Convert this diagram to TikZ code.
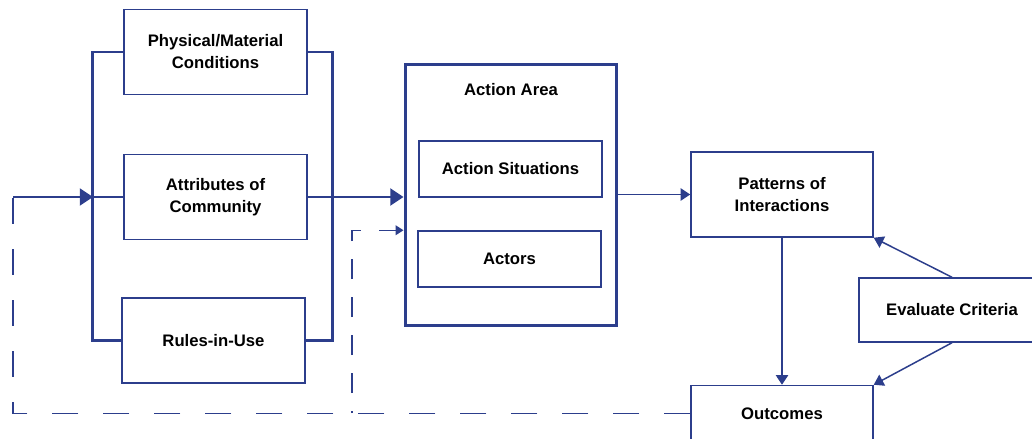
\documentclass[tikz,border=0pt]{standalone}
\usepackage{fontspec}
\setmainfont{Liberation Sans}
\usetikzlibrary{arrows.meta}
\definecolor{iadblue}{RGB}{44,62,140}
\tikzset{
  box/.style={draw=iadblue,line width=0.85pt,align=center,inner sep=0pt,
    font=\bfseries\fontsize{9.5}{12.5}\selectfont,
    minimum width=3.66cm,minimum height=1.7cm},
  small/.style={box,minimum height=1.12cm},
  bus/.style={draw=iadblue,line width=1.7pt},
  bigarrow/.style={bus,-{Triangle[length=7.5pt,width=9.5pt]}},
  thinarrow/.style={iadblue,line width=0.85pt,-{Triangle[length=5.5pt,width=7pt]}},
  fb/.style={draw=iadblue,line width=0.85pt,dash pattern=on 0.52cm off 0.5cm}
}
\begin{document}
\begin{tikzpicture}[x=0.02cm,y=-0.02cm]
\useasboundingbox (0,0) rectangle (1032,439);
\node[box] (phys) at (215.5,52) {Physical/Material\\Conditions};
\node[box] (attr) at (215.5,197) {Attributes of\\Community};
\node[box] (rules) at (213.5,340.5) {Rules-in-Use};
\node[box,line width=1.7pt,minimum width=4.24cm,minimum height=5.24cm] (area) at (511,195) {};
\node[font=\bfseries\fontsize{9.5}{12.5}\selectfont] (areatitle) at (511,90) {Action Area};
\node[small] (sit) at (510.5,169) {Action Situations};
\node[small] (actors) at (509.5,259) {Actors};
\node[box,minimum width=3.64cm] (patt) at (782,194.5) {Patterns of\\Interactions};
\node[box,minimum width=3.72cm,minimum height=1.28cm] (eval) at (952,310) {Evaluate Criteria};
\node[box,minimum width=3.64cm,minimum height=1.12cm] (outc) at (782,413.5) {Outcomes};
\coordinate (lbus) at (93,197);
\coordinate (fbk) at (13,197);
\coordinate (fb2) at (352,413);
\draw[bus] (phys.west) -- ++(-31,0) |- (rules.west);
\draw[bus] (phys.east) -- ++(25,0) |- (rules.east);
\draw[bus] (lbus) -- (attr.west);
\draw[bigarrow] (fbk) -- (lbus);
\draw[bigarrow] (attr.east) -- (attr.east -| area.west);
\draw[fb] (outc.west) -| (fbk);
\draw[fb,dash pattern=on 0.4cm off 0.36cm,dash phase=0.36cm,-{Triangle[length=4.5pt,width=5.5pt]}] (fb2) |- (area.west |- actors.north);
\path[thinarrow]
(area.east |- patt.west) edge (patt.west)
(patt.south) edge (outc.north)
(eval.north) edge (patt.south east)
(eval.south) edge (outc.north east);
\end{tikzpicture}
\end{document}
